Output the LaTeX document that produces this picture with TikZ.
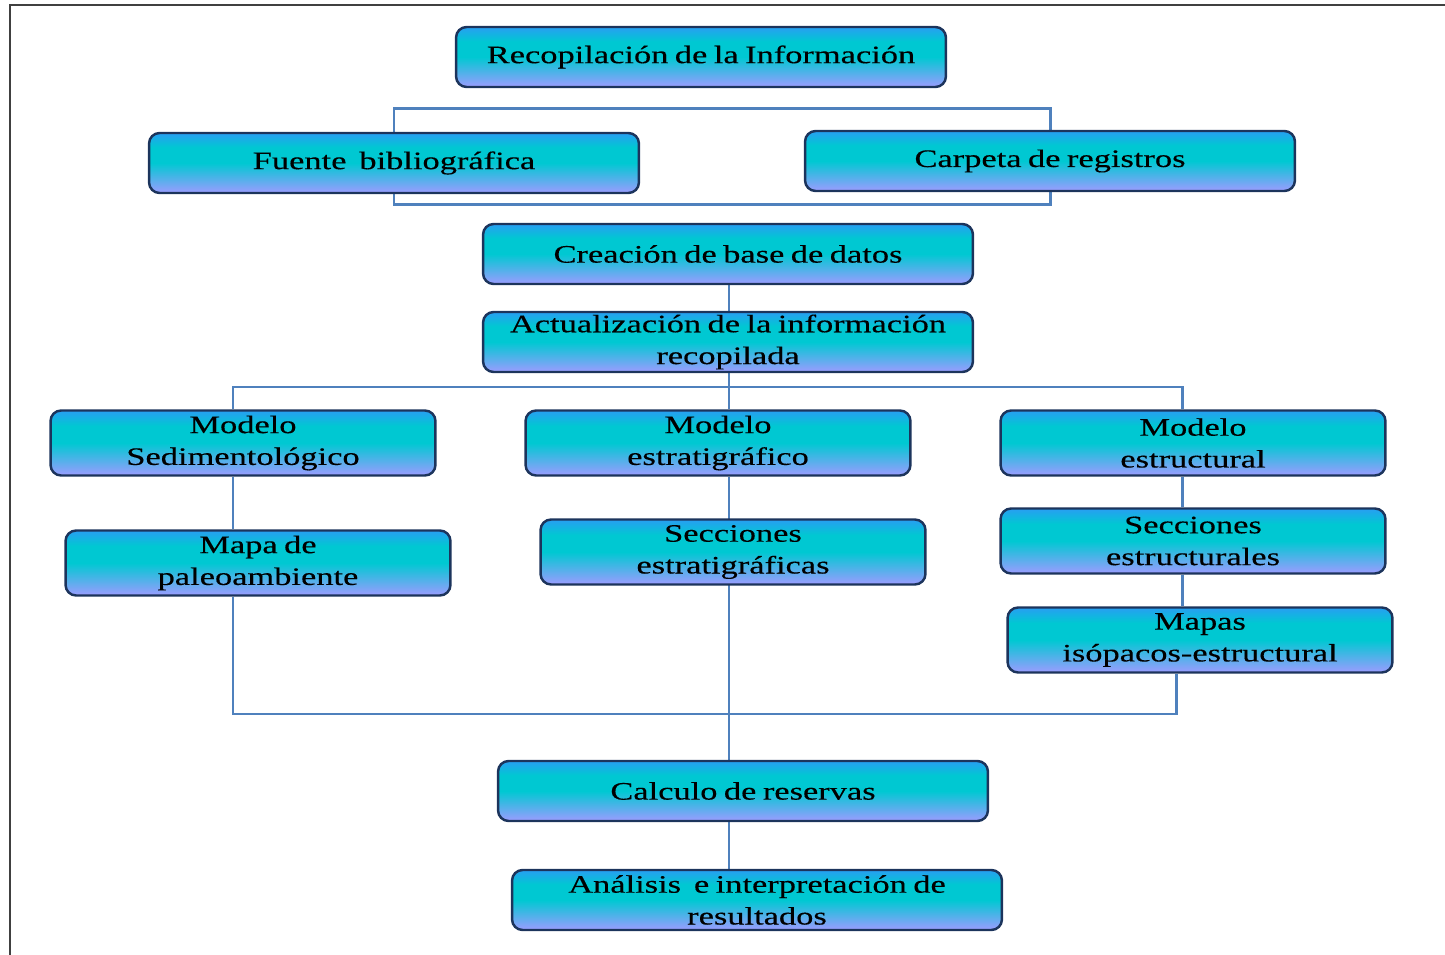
\documentclass[tikz,border=0pt]{standalone}
\usepackage{fontspec}
\setmainfont{Liberation Serif}[FakeStretch=1.37, WordSpace=0.75, FakeBold=0.3]
\usetikzlibrary{backgrounds}

\definecolor{boxtop}{RGB}{40,158,242}
\definecolor{boxmid}{RGB}{0,200,210}
\definecolor{boxbot}{RGB}{156,156,255}
\definecolor{boxline}{RGB}{28,52,92}
\definecolor{linkblue}{RGB}{79,129,189}
\definecolor{framegray}{RGB}{64,64,64}

\pgfdeclareverticalshading{stagefill}{100bp}{color(0bp)=(boxbot); color(25bp)=(boxbot);
  color(50bp)=(boxmid); color(63bp)=(boxmid); color(75bp)=(boxtop); color(100bp)=(boxtop)}

\tikzset{
  stage/.style={draw=boxline, line width=1.4pt, rounded corners=6pt,
    shading=stagefill, align=center, inner sep=0pt, text=black,
    font=\fontsize{14.3}{18.1}\selectfont},
  widebox/.style={stage, minimum width=9.8cm, minimum height=1.2cm},
  modelbox/.style={stage, minimum width=7.7cm, minimum height=1.3cm},
  link/.style={draw=linkblue, line width=1.7pt}
}

\begin{document}
\begin{tikzpicture}[x=0.02cm, y=-0.02cm]
\useasboundingbox (0,0) rectangle (1445,955);
% frame
\draw[framegray, line width=1.2pt] (10,955) -- (10,5) -- (1445,5);

% boxes
\node[widebox] (recop) at (701,57) {Recopilación de la Información};
\node[widebox] (fuente) at (394,163) {Fuente~ bibliográfica};
\node[widebox] (carpeta) at (1050,161) {Carpeta de registros};
\node[widebox] (base) at (728,254) {Creación de base de datos};
\node[widebox] (actual) at (728,342) {Actualización de la información\\recopilada};
\node[modelbox] (sedim) at (243,443) {Modelo\\Sedimentológico};
\node[modelbox] (estrat) at (718,443) {Modelo\\estratigráfico};
\node[modelbox] (estruc) at (1193,443) {Modelo\\estructural};
\node[modelbox] (paleo) at (258,563) {Mapa de\\paleoambiente};
\node[modelbox] (secest) at (733,552) {Secciones\\estratigráficas};
\node[modelbox] (secstr) at (1193,541) {Secciones\\estructurales};
\node[modelbox] (isopac) at (1200,640) {Mapas\\isópacos-estructural};
\node[widebox] (reserv) at (743,791) {Calculo de reservas};
\node[widebox] (analis) at (757,900) {Análisis~ e interpretación de\\resultados};

% connectors
\coordinate (srcTop) at (0,109);
\coordinate (srcBot) at (0,205);
\coordinate (busTop) at (0,387);
\coordinate (busBot) at (0,714);
\coordinate (colA) at (233,0);
\coordinate (colB) at (729,0);
\coordinate (colC) at (1182,0);
\coordinate (colD) at (1176,0);
\begin{scope}[on background layer]
\draw[link] (fuente.center |- srcTop) -- (carpeta.center |- srcTop)
  -- (carpeta.center |- srcBot) -- (fuente.center |- srcBot) -- cycle;
\draw[link] (colB |- base.south) -- (colB |- actual.north);
\draw[link] (colB |- actual.south) -- (colB |- estrat.north);
\draw[link] (colA |- sedim.north) -- (colA |- busTop) -- (colC |- busTop) -- (colC |- estruc.north);
\draw[link] (colA |- sedim.south) -- (colA |- paleo.north);
\draw[link] (colA |- paleo.south) -- (colA |- busBot) -- (colD |- busBot) -- (colD |- isopac.south);
\draw[link] (colC |- estruc.south) -- (colC |- secstr.north);
\draw[link] (colC |- secstr.south) -- (colC |- isopac.north);
\draw[link] (colB |- estrat.south) -- (colB |- reserv.north);
\draw[link] (colB |- reserv.south) -- (colB |- analis.north);
\end{scope}
\end{tikzpicture}
\end{document}
